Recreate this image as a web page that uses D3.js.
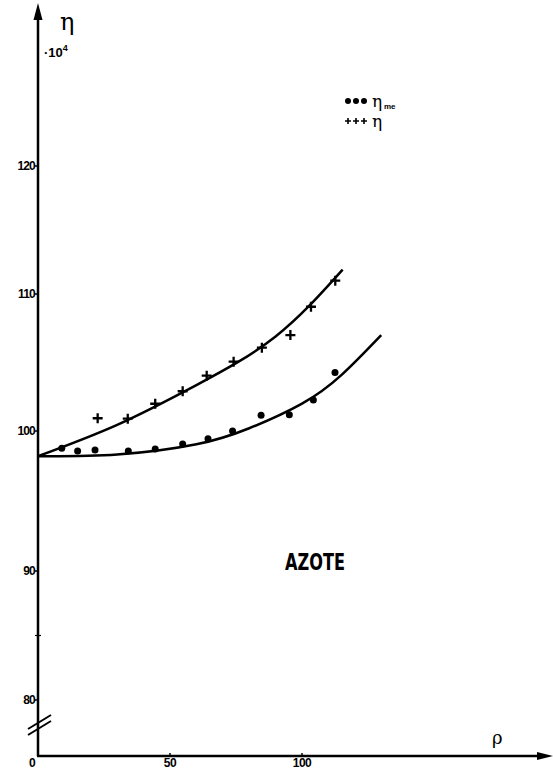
<!DOCTYPE html>
<html><head><meta charset="utf-8">
<script src="https://cdn.jsdelivr.net/npm/d3@7"></script>
<style>body{margin:0;background:#fff}svg{display:block}</style>
</head><body>
<script>
// ---- data ----
const yTicks = [80, 90, 100, 110, 120];
const yMinorTicks = [85];
const xTicks = [0, 50, 100];
// η (crosses)
const etaX = [22.6, 34, 44.4, 54.8, 63.9, 74.1, 84.8, 95.6, 103.4, 112.6];
const etaY = [100.93, 100.9, 101.99, 102.9, 104.04, 105.06, 106.08, 107.0, 109.07, 111.04];
// η_me (dots)
const etaMeX = [9.0, 15.0, 21.6, 34.2, 44.4, 54.8, 64.4, 73.7, 84.5, 95.2, 104.3, 112.5];
const etaMeY = [98.76, 98.57, 98.64, 98.57, 98.71, 99.07, 99.45, 100.0, 101.15, 101.19, 102.26, 104.27];
// fitted curves
const fitUpX = [0, 30, 60, 90, 115.4];
const fitUpY = [98.2, 100.45, 103.35, 106.9, 111.9];
const fitLowX = [0, 30, 60, 80, 100, 115, 130];
const fitLowY = [98.2, 98.32, 99.05, 100.2, 102.0, 104.1, 107.0];

const W = 553, H = 771;
const svg = d3.select("body").append("svg").attr("width", W).attr("height", H);

const x = d3.scaleLinear().domain([0, 100]).range([38, 302]);
const y = d3.scaleLinear().domain([80, 90, 100, 110, 120]).range([700, 571, 431, 294, 166]);
const axisY = 756, axisX = 38;
const font = "'Liberation Sans', Arial, sans-serif";

// axes lines
svg.append("line").attr("x1", axisX).attr("x2", axisX).attr("y1", axisY).attr("y2", 12)
  .attr("stroke", "#000").attr("stroke-width", 2.5);
svg.append("path").attr("d", `M${axisX},3 L${axisX-4.5},20 L${axisX+4.5},20 Z`).attr("fill", "#000");
svg.append("line").attr("x1", axisX-1).attr("x2", 540).attr("y1", axisY).attr("y2", axisY)
  .attr("stroke", "#000").attr("stroke-width", 2.5);
svg.append("path").attr("d", `M553,${axisY} L537,${axisY-4} L537,${axisY+4} Z`).attr("fill", "#000");

// break marks
[0, 6].forEach(d => {
  svg.append("line").attr("x1", 28).attr("y1", 735 - d).attr("x2", 51).attr("y2", 721 - d)
    .attr("stroke", "#000").attr("stroke-width", 2);
});

// y ticks
const gy = svg.append("g");
yTicks.forEach(t => {
  gy.append("line").attr("x1", axisX - 3).attr("x2", axisX).attr("y1", y(t)).attr("y2", y(t))
    .attr("stroke", "#000").attr("stroke-width", 1.5);
  gy.append("text").attr("x", axisX - 3).attr("y", y(t) + 4).attr("text-anchor", "end")
    .attr("font-family", font).attr("font-size", 12).attr("font-weight", "bold")
    .attr("letter-spacing", -0.8).text(t);
});
yMinorTicks.forEach(t => {
  gy.append("line").attr("x1", axisX - 3).attr("x2", axisX + 3).attr("y1", y(t)).attr("y2", y(t))
    .attr("stroke", "#000").attr("stroke-width", 1.2);
});

// x ticks
xTicks.forEach(t => {
  if (t > 0) svg.append("line").attr("x1", x(t)).attr("x2", x(t)).attr("y1", axisY).attr("y2", axisY - 3)
    .attr("stroke", "#000").attr("stroke-width", 1.5);
  svg.append("text").attr("x", t === 0 ? x(t) - 6 : x(t)).attr("y", 767).attr("text-anchor", "middle")
    .attr("font-family", font).attr("font-size", 12).attr("font-weight", "bold")
    .attr("letter-spacing", -0.5).text(t);
});

// axis labels
svg.append("text").attr("x", 60).attr("y", 30).attr("font-family", "'DejaVu Serif', serif")
  .attr("font-size", 24).text("η");
const t10 = svg.append("text").attr("x", 44).attr("y", 57).attr("font-family", font)
  .attr("font-size", 13).attr("font-weight", "bold");
t10.append("tspan").text("·10");
t10.append("tspan").attr("font-size", 9).attr("dy", -6).text("4");
svg.append("text").attr("x", 492).attr("y", 744).attr("font-family", "'DejaVu Serif', serif")
  .attr("font-size", 18).text("ρ");

// curves
const line = d3.line().x(d => x(d[0])).y(d => y(d[1])).curve(d3.curveNatural);
svg.append("path").attr("d", line(d3.zip(fitUpX, fitUpY))).attr("fill", "none")
  .attr("stroke", "#000").attr("stroke-width", 2.5);
svg.append("path").attr("d", line(d3.zip(fitLowX, fitLowY))).attr("fill", "none")
  .attr("stroke", "#000").attr("stroke-width", 2.5);

// dots
svg.append("g").selectAll("circle").data(d3.zip(etaMeX, etaMeY)).join("circle")
  .attr("cx", d => x(d[0])).attr("cy", d => y(d[1])).attr("r", 3.5).attr("fill", "#000");

// crosses
const cross = s => `M${-s},0 L${s},0 M0,${-s} L0,${s}`;
svg.append("g").selectAll("path").data(d3.zip(etaX, etaY)).join("path")
  .attr("transform", d => `translate(${x(d[0])},${y(d[1])})`)
  .attr("d", cross(5)).attr("stroke", "#000").attr("stroke-width", 2.3);

// legend
const lg = svg.append("g");
[348, 356, 364].forEach(cx => lg.append("circle").attr("cx", cx).attr("cy", 101).attr("r", 3).attr("fill", "#000"));
lg.append("text").attr("x", 372).attr("y", 107).attr("font-family", "'DejaVu Serif', serif").attr("font-size", 17).text("η");
lg.append("text").attr("x", 384).attr("y", 109).attr("font-family", font).attr("font-size", 8).attr("font-weight", "bold").attr("fill", "#000").text("me");
[348, 356, 364].forEach(cx => lg.append("path").attr("transform", `translate(${cx},121)`).attr("d", cross(3))
  .attr("stroke", "#000").attr("stroke-width", 1.6));
lg.append("text").attr("x", 372).attr("y", 127).attr("font-family", "'DejaVu Serif', serif").attr("font-size", 17).text("η");

// title
svg.append("text").attr("x", 285).attr("y", 570).attr("font-family", "'DejaVu Sans Condensed', 'DejaVu Sans', sans-serif")
  .attr("font-stretch", "condensed").attr("font-weight", "bold").attr("font-size", 23).attr("textLength", 60).attr("lengthAdjust", "spacingAndGlyphs")
  .text("AZOTE");
</script>
</body></html>
